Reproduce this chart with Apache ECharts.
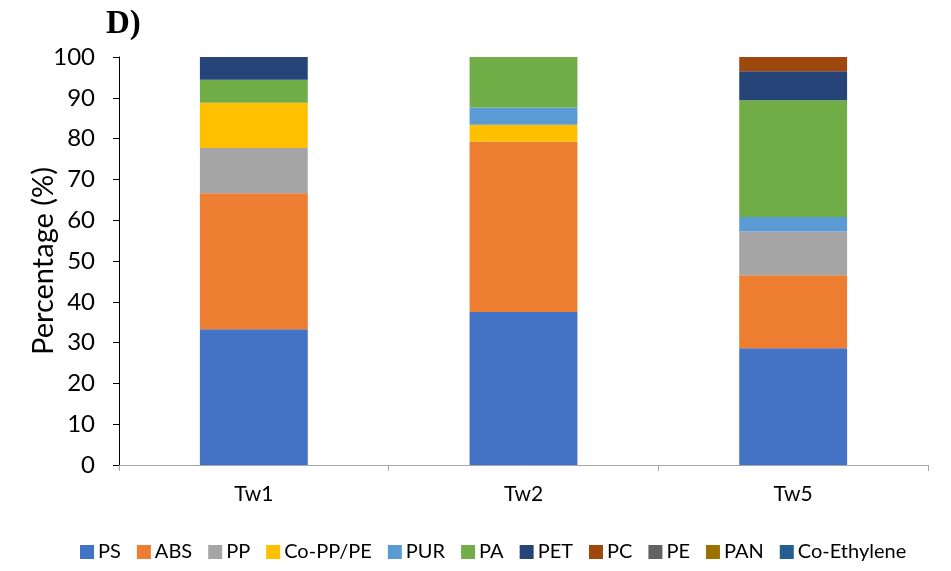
<!DOCTYPE html>
<html><head><meta charset="utf-8">
<script src="https://cdn.jsdelivr.net/npm/echarts@6/dist/echarts.min.js"></script>
<style>html,body{margin:0;padding:0;background:#fff}#c{width:951px;height:571px}</style>
</head><body><div id="c"></div>
<script>
const categories = ['Tw1', 'Tw2', 'Tw5'];
const seriesNames = ['PS', 'ABS', 'PP', 'Co-PP/PE', 'PUR', 'PA', 'PET', 'PC', 'PE', 'PAN', 'Co-Ethylene'];
const PS = [33.3, 37.5, 28.6];
const ABS = [33.3, 41.7, 17.9];
const PP = [11.1, 0, 10.7];
const CoPPPE = [11.1, 4.2, 0];
const PUR = [0, 4.2, 3.6];
const PA = [5.6, 12.5, 28.6];
const PET = [5.6, 0, 7.1];
const PC = [0, 0, 3.6];
const PE = [0, 0, 0];
const PAN = [0, 0, 0];
const CoEthylene = [0, 0, 0];
const yTicks = [0, 10, 20, 30, 40, 50, 60, 70, 80, 90, 100];
const colors = ['#4472C4', '#ED7D31', '#A5A5A5', '#FFC000', '#5B9BD5', '#70AD47', '#264478', '#9E480E', '#636363', '#997300', '#255E91'];
const values = [PS, ABS, PP, CoPPPE, PUR, PA, PET, PC, PE, PAN, CoEthylene];

const chart = echarts.init(document.getElementById('c'));
chart.setOption({
  animation: false,
  color: colors,
  title: {
    text: 'D)', left: 101, top: 3,
    textStyle: {fontFamily: 'Liberation Serif', fontWeight: 'bold', fontSize: 33, color: '#000'}
  },
  legend: {
    top: 537, left: 75,
    itemWidth: 14, itemHeight: 14, itemGap: 16,
    icon: 'rect',
    textStyle: {fontFamily: 'Lato', fontSize: 20, color: '#000', padding: [0, 0, 0, -1]},
    data: seriesNames
  },
  grid: {left: 119, right: 23, top: 57, bottom: 106},
  xAxis: {
    type: 'category', data: categories,
    axisLine: {lineStyle: {color: '#A6A6A6'}},
    axisTick: {show: true, alignWithLabel: false, length: 6, lineStyle: {color: '#A6A6A6'}},
    axisLabel: {fontFamily: 'Lato', fontSize: 21, color: '#000', margin: 19}
  },
  yAxis: {
    type: 'value', min: yTicks[0], max: yTicks[yTicks.length - 1], interval: 10,
    name: 'Percentage (%)', nameLocation: 'middle', nameGap: 61, nameMoveOverlap: false,
    nameTextStyle: {fontFamily: 'Lato', fontSize: 29, color: '#000'},
    axisLine: {show: true, lineStyle: {color: '#000'}},
    axisTick: {show: true, length: 6, lineStyle: {color: '#000'}},
    axisLabel: {fontFamily: 'Lato', fontSize: 24, color: '#000', margin: 24},
    splitLine: {show: false}
  },
  series: seriesNames.map((n, i) => ({
    name: n, type: 'bar', stack: 'total', barWidth: '40%',
    data: values[i]
  }))
});
</script></body></html>
